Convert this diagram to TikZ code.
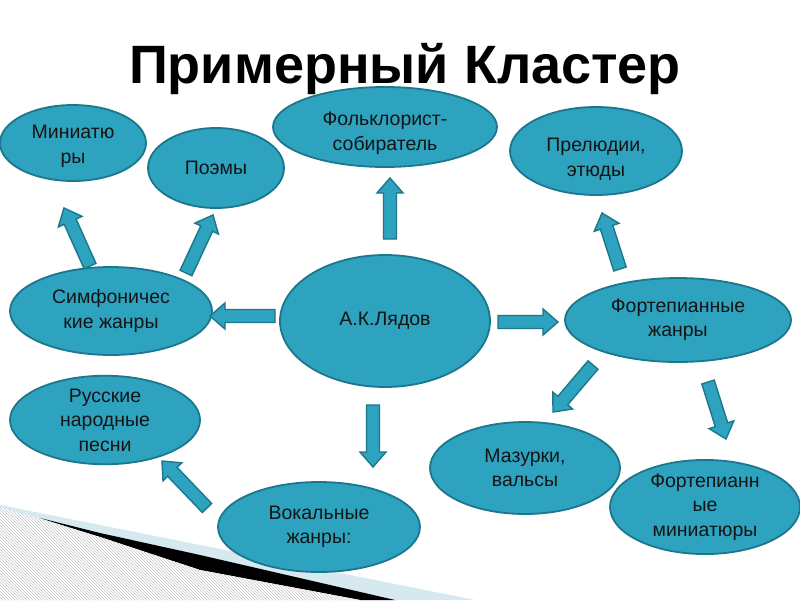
\documentclass[tikz,border=0pt]{standalone}
\usepackage{fontspec}
\setmainfont{Liberation Sans}
\usetikzlibrary{calc,patterns,shapes.geometric}
\definecolor{tealfill}{RGB}{46,163,191}
\definecolor{tealline}{RGB}{28,118,140}
\definecolor{decoblue}{RGB}{214,232,240}
\definecolor{txt}{RGB}{20,20,20}
\newcommand{\mylowertext}[2]{\raisebox{-#1}[\height][\depth]{\begin{tabular}{@{}c@{}}#2\end{tabular}}}
\begin{document}
\begin{tikzpicture}[x=1pt,y=-1pt,
  bubble/.style={ellipse, draw=tealline, fill=tealfill, line width=1.8pt, inner sep=0pt,
    align=center, text=txt, font=\fontsize{19.5}{24.5}\selectfont},
  barrow/.style={draw=tealline, fill=tealfill, line width=1.4pt, line join=miter,
    to path={let \p1=(\tikztostart), \p2=(\tikztotarget),
      \n1={atan2(\y2-\y1,\x2-\x1)}, \n2={veclen(\x2-\x1,\y2-\y1)-15} in
      ($(\p1)+(\n1+90:6.5pt)$) -- ($(\p1)+(\n1:\n2)+(\n1+90:6.5pt)$)
      -- ($(\p1)+(\n1:\n2)+(\n1+90:13pt)$) -- (\p2)
      -- ($(\p1)+(\n1:\n2)+(\n1-90:13pt)$) -- ($(\p1)+(\n1:\n2)+(\n1-90:6.5pt)$)
      -- ($(\p1)+(\n1-90:6.5pt)$) -- cycle}}
]
\useasboundingbox (0,0) rectangle (800,600);
\fill[white] (0,0) rectangle (800,600);

% bottom-left decoration
\fill[decoblue] (0,505) -- (475,600) -- (0,600) -- cycle;
\fill[black] (40,518) -- (100,533) -- (200,555) -- (395,600) -- (360,600) -- (200,570) -- (100,537) -- cycle;
\fill[white] (0,507) -- (40,519) -- (100,537) -- (200,570) -- (360,600) -- (0,600) -- cycle;
\fill[pattern=north west lines, pattern color=gray!45] (0,507) -- (40,519) -- (100,537) -- (200,570) -- (360,600) -- (0,600) -- cycle;

% title
\node[font=\fontsize{54}{60}\selectfont\bfseries, anchor=base, text=black] (title) at (405,83) {Примерный Кластер};

% nodes
\node[bubble, minimum width=146pt, minimum height=76pt] (min) at (73,143) {\mylowertext{3pt}{Миниатю\\ры}};
\node[bubble, minimum width=136pt, minimum height=80pt] (poem) at (216,168) {Поэмы};
\node[bubble, minimum width=224pt, minimum height=80pt] (folk) at (385,127) {\mylowertext{6pt}{Фольклорист-\\собиратель}};
\node[bubble, minimum width=172pt, minimum height=88pt] (prel) at (596,151) {\mylowertext{8pt}{Прелюдии,\\этюды}};
\node[bubble, minimum width=202pt, minimum height=88pt] (sym) at (111,311) {Симфоничес\\кие жанры};
\node[bubble, minimum width=210pt, minimum height=132pt] (lyad) at (385,321) {А.К.Лядов};
\node[bubble, minimum width=226pt, minimum height=84pt] (fort) at (678,320) {Фортепианные\\жанры};
\node[bubble, minimum width=190pt, minimum height=84pt] (rus) at (105,420) {Русские\\народные\\песни};
\node[bubble, minimum width=190pt, minimum height=92pt] (maz) at (525,468) {Мазурки,\\вальсы};
\node[bubble, minimum width=190pt, minimum height=90pt] (fmin) at (705,507) {Фортепианн\\ые\\миниатюры};
\node[bubble, minimum width=202pt, minimum height=90pt] (vok) at (319,527) {Вокальные\\жанры:};

% arrow end points
\coordinate (a1s) at (90,266);  \coordinate (a1e) at (64,208);
\coordinate (a2s) at (186,273); \coordinate (a2e) at (213,215);
\coordinate (a3s) at (275,316); \coordinate (a3e) at (210,316);
\coordinate (a4s) at (390,239); \coordinate (a4e) at (390,178);
\coordinate (a5s) at (498,322); \coordinate (a5e) at (558,322);
\coordinate (a6s) at (620,269); \coordinate (a6e) at (602,213);
\coordinate (a7s) at (593,365); \coordinate (a7e) at (553,412);
\coordinate (a8s) at (708,382); \coordinate (a8e) at (726,439);
\coordinate (a9s) at (373,405); \coordinate (a9e) at (373,467);
\coordinate (a10s) at (207,508); \coordinate (a10e) at (162,461);

\path[barrow] (a1s) to (a1e);
\path[barrow] (a2s) to (a2e);
\path[barrow] (a3s) to (a3e);
\path[barrow] (a4s) to (a4e);
\path[barrow] (a5s) to (a5e);
\path[barrow] (a6s) to (a6e);
\path[barrow] (a7s) to (a7e);
\path[barrow] (a8s) to (a8e);
\path[barrow] (a9s) to (a9e);
\path[barrow] (a10s) to (a10e);
\end{tikzpicture}
\end{document}
